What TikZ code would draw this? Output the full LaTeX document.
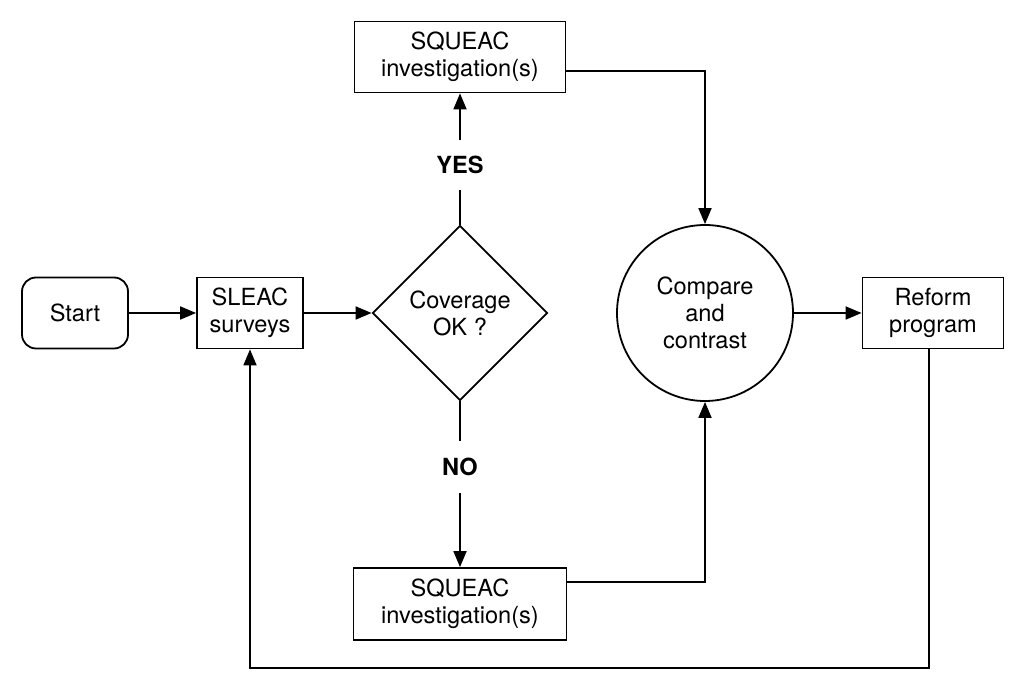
\documentclass[tikz,border=0pt]{standalone}
\usepackage{fontspec}
\setmainfont{TeX Gyre Heros}
\usetikzlibrary{shapes.geometric,arrows.meta}
\begin{document}
\begin{tikzpicture}[x=0.5pt,y=-0.5pt,
  every node/.style={font=\fontsize{11.8}{13.5}\selectfont,align=center,line width=0.9pt},
  box/.style={draw,rectangle,inner sep=0pt,minimum height=35.5pt},
  startbox/.style={box,rounded corners=7pt,minimum width=53pt},
  test/.style={draw,diamond,aspect=1,inner sep=0pt,minimum width=87.5pt,minimum height=87.5pt},
  round/.style={draw,circle,inner sep=0pt,minimum size=88pt},
  answer/.style={font=\fontsize{11.8}{13.5}\selectfont\bfseries,inner sep=0pt,minimum height=24pt},
  flow/.style={line width=0.9pt,-{Triangle[length=8pt,width=6.5pt]}},
  wire/.style={line width=0.9pt}]
\useasboundingbox (0,0) rectangle (1024,689);

\node[startbox] (start) at (75,313) {Start};
\node[box,minimum width=53pt] (sleac) at (250,313) {SLEAC\\surveys};
\node[test] (cov) at (460,313) {Coverage\\OK ?};
\node[box,minimum width=105.5pt] (sqtop) at (460,57) {SQUEAC\\investigation(s)};
\node[box,minimum width=106.5pt,minimum height=36pt] (sqbot) at (460,604) {SQUEAC\\investigation(s)};
\node[round] (cmp) at (705,313) {Compare\\and\\contrast};
\node[box,minimum width=70.5pt] (reform) at (933,313) {Reform\\program};

\node[answer] (yes) at (460,165) {YES};
\node[answer,minimum height=25pt] (no) at (460,467) {NO};

\coordinate (loop) at (0,668);

\draw[flow] (start) -- (sleac);
\draw[flow] (sleac) -- (cov);
\draw[wire] (cov.north) -- (yes.south);
\draw[flow] (yes.north) -- (sqtop.south);
\draw[wire] (cov.south) -- (no.north);
\draw[flow] (no.south) -- (sqbot.north);
\draw[flow] ([yshift=-7pt]sqtop.east) -| (cmp.north);
\draw[flow] ([yshift=11pt]sqbot.east) -| (cmp.south);
\draw[flow] (cmp) -- (reform);
\draw[flow] ([xshift=-2pt]reform.south) -- ([xshift=-2pt]reform.south |- loop) -| (sleac.south);
\end{tikzpicture}
\end{document}
